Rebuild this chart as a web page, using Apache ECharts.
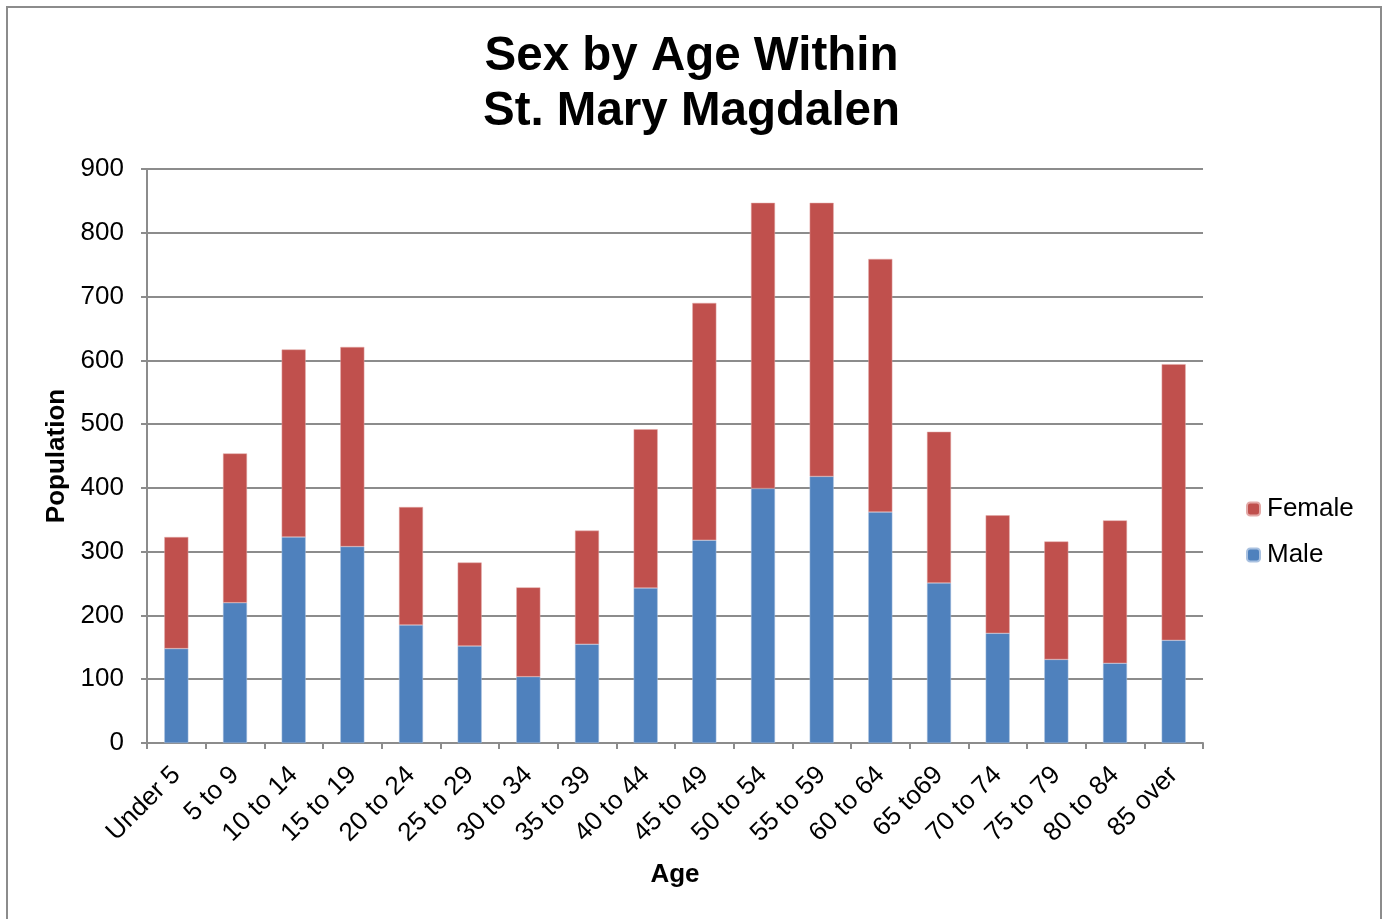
<!DOCTYPE html>
<html>
<head>
<meta charset="utf-8">
<script src="https://cdn.jsdelivr.net/npm/echarts@6/dist/echarts.min.js"></script>
<style>
  html, body { margin: 0; padding: 0; background: #fff; }
  #frame { position: absolute; left: 6px; top: 6px; width: 1376px; height: 940px; border: 2px solid #8c8c8c; box-sizing: border-box; }
  #chart { position: absolute; left: 0; top: 0; width: 1383px; height: 919px; }
</style>
</head>
<body>
<div id="frame"></div>
<div id="chart"></div>
<script>
const categories = ['Under 5','5 to 9','10 to 14','15 to 19','20 to 24','25 to 29','30 to 34','35 to 39','40 to 44','45 to 49','50 to 54','55 to 59','60 to 64','65 to69','70 to 74','75 to 79','80 to 84','85 over'];
const maleValues = [148, 220, 323, 308, 185, 152, 104, 155, 243, 318, 399, 418, 362, 251, 172, 131, 125, 161];
const femaleValues = [175, 234, 294, 313, 185, 131, 140, 178, 249, 372, 448, 429, 397, 237, 185, 185, 224, 433];
const yTicks = { min: 0, max: 900, interval: 100 };

const chart = echarts.init(document.getElementById('chart'));
const font = 'Liberation Sans, Arial, sans-serif';
chart.setOption({
  backgroundColor: 'transparent',
  animation: false,
  textStyle: { fontFamily: font },
  title: {
    text: 'Sex by Age Within\nSt. Mary Magdalen',
    left: 'center',
    top: 24,
    textStyle: { fontFamily: font, fontSize: 47.5, fontWeight: 'bold', color: '#000', lineHeight: 55 }
  },
  legend: {
    orient: 'vertical',
    left: 1241,
    top: 491,
    itemWidth: 13,
    itemHeight: 13,
    itemGap: 20,
    data: ['Female', 'Male'],
    textStyle: { fontFamily: font, fontSize: 26, color: '#000', padding: [0, 0, 0, 2] }
  },
  grid: { left: 147, right: 180, top: 169, bottom: 176 },
  xAxis: {
    type: 'category',
    data: categories,
    name: 'Age',
    nameLocation: 'middle',
    nameGap: 119,
    nameTextStyle: { fontFamily: font, fontSize: 26, fontWeight: 'bold', color: '#000' },
    axisLine: { lineStyle: { color: '#8c8c8c', width: 2 } },
    axisTick: { show: true, length: 6, lineStyle: { color: '#8c8c8c', width: 2 } },
    axisLabel: { rotate: 45, fontSize: 26, color: '#000', margin: 28, interval: 0, fontFamily: font }
  },
  yAxis: {
    type: 'value',
    min: yTicks.min,
    max: yTicks.max,
    interval: yTicks.interval,
    name: 'Population',
    nameLocation: 'middle',
    nameRotate: 90,
    nameGap: 75,
    nameTextStyle: { fontFamily: font, fontSize: 26, fontWeight: 'bold', color: '#000' },
    axisLine: { show: true, lineStyle: { color: '#8c8c8c', width: 2 } },
    axisTick: { show: true, length: 6, lineStyle: { color: '#8c8c8c', width: 2 } },
    axisLabel: { fontSize: 26, color: '#000', margin: 23, fontFamily: font },
    splitLine: { show: true, lineStyle: { color: '#8c8c8c', width: 2 } }
  },
  series: [
    {
      name: 'Male',
      type: 'bar',
      stack: 'total',
      data: maleValues,
      barWidth: 24,
      itemStyle: { color: '#4f81bd', borderColor: '#a9c1e0', borderWidth: 0.5 }
    },
    {
      name: 'Female',
      type: 'bar',
      stack: 'total',
      data: femaleValues,
      barWidth: 24,
      itemStyle: { color: '#c0504d', borderColor: '#e3a9a7', borderWidth: 0.5 }
    }
  ]
});
</script>
</body>
</html>
